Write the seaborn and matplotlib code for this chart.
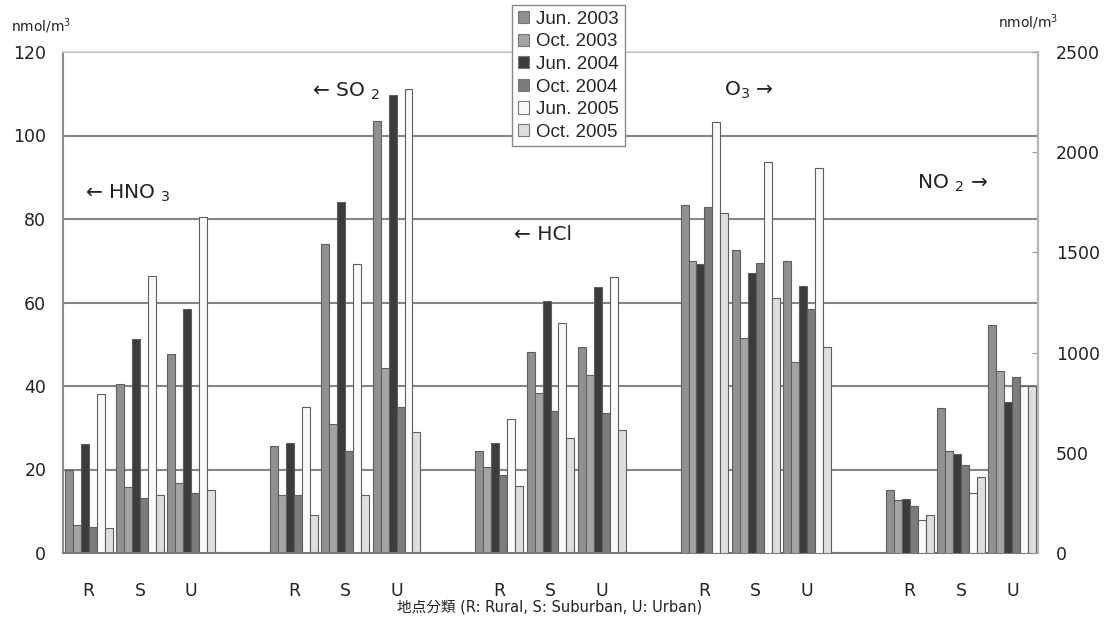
import numpy as np
import pandas as pd
import matplotlib
matplotlib.use("Agg")
import matplotlib.pyplot as plt
import seaborn as sns
from matplotlib.patches import Patch

# sampling periods (hue) and site classes
periods = ["Jun. 2003", "Oct. 2003", "Jun. 2004", "Oct. 2004", "Jun. 2005", "Oct. 2005"]
sites = ["R", "S", "U"]
colors = ["#909090", "#a4a4a4", "#3c3c3c", "#7c7c7c", "#fafafa", "#dedede"]

# rows: R, S, U ; columns: periods  (nmol/m3)
hno3 = [[20.0, 6.6, 26.0, 6.2, 38.2, 6.0],
        [40.5, 15.8, 51.2, 13.1, 66.3, 13.9],
        [47.6, 16.8, 58.4, 14.4, 80.4, 15.0]]
so2 = [[25.6, 14.0, 26.3, 13.8, 34.9, 9.1],
       [73.9, 30.9, 84.1, 24.4, 69.3, 13.9],
       [103.4, 44.3, 109.8, 34.9, 111.2, 29.0]]
hcl = [[24.4, 20.6, 26.3, 18.7, 32.1, 16.0],
       [48.1, 38.3, 60.3, 34.1, 55.0, 27.6],
       [49.4, 42.6, 63.6, 33.5, 66.0, 29.5]]
# right axis
o3 = [[1736, 1456, 1440, 1725, 2149, 1695],
      [1511, 1073, 1395, 1445, 1949, 1273],
      [1458, 951, 1332, 1220, 1919, 1029]]
no2 = [[312, 262, 270, 234, 167, 191],
       [725, 508, 492, 437, 299, 378],
       [1139, 906, 753, 876, 831, 831]]

gases = ["HNO3", "SO2", "HCl", "O3", "NO2"]
gas_data = {"HNO3": hno3, "SO2": so2, "HCl": hcl, "O3": o3, "NO2": no2}
right_gases = ["O3", "NO2"]

# category order with an empty slot between gases
cats = []
tick_labels = []
for i, g in enumerate(gases):
    for s in sites:
        cats.append(g + " " + s)
        tick_labels.append(s)
    if i < len(gases) - 1:
        cats.append("gap" + str(i))
        tick_labels.append("")

rows = []
for g in gases:
    for si, s in enumerate(sites):
        for pi, p in enumerate(periods):
            rows.append({"cat": g + " " + s, "period": p,
                         "value": gas_data[g][si][pi],
                         "side": "right" if g in right_gases else "left"})
df = pd.DataFrame(rows)

sns.set_style("white")
plt.rcParams["font.family"] = ["DejaVu Sans", "Noto Sans CJK JP"]

W, H = 1111, 623
fig = plt.figure(figsize=(W / 100, H / 100), dpi=100)
ax = fig.add_axes([63 / W, 1 - 553 / H, (1038 - 63) / W, (553 - 52) / H])
ax2 = ax.twinx()

edge = "#5e5e5e"
sns.barplot(data=df[df.side == "left"], x="cat", y="value", hue="period",
            order=cats, hue_order=periods, palette=colors, width=0.93, gap=0,
            edgecolor=edge, linewidth=0.8, errorbar=None, legend=False, ax=ax)
sns.barplot(data=df[df.side == "right"], x="cat", y="value", hue="period",
            order=cats, hue_order=periods, palette=colors, width=0.93, gap=0,
            edgecolor=edge, linewidth=0.8, errorbar=None, legend=False, ax=ax2)

ax.set_xlim(-0.5, len(cats) - 0.5)
ax.set_ylim(0, 120)
ax2.set_ylim(0, 2500)
ax.set_yticks(range(0, 121, 20))
ax2.set_yticks(range(0, 2501, 500))
ax.set_xticks(range(len(cats)))
ax.set_xticklabels(tick_labels)
ax.set_xticks(np.arange(len(cats) + 1) - 0.5, minor=True)
for a in (ax, ax2):
    a.set_xlabel("")
    a.set_ylabel("")

ax.yaxis.grid(True, color="#858585", lw=1.5)
ax.set_axisbelow(True)
ax.tick_params(axis="y", length=0, labelsize=12.5, pad=12, colors="#222222")
ax.tick_params(axis="x", which="major", length=0, labelsize=12.5, pad=21, colors="#222222")
ax.tick_params(axis="x", which="minor", direction="in", length=4, color="#999999")
ax2.tick_params(axis="y", direction="in", length=4, color="#999999",
                labelsize=12.5, pad=13, labelcolor="#222222")

for side, c, lw in [("left", "#8c8c8c", 1.5), ("bottom", "#7a7a7a", 1.5),
                    ("top", "#d0d0d0", 1.2), ("right", "#b4b4b4", 1.5)]:
    ax.spines[side].set_color(c)
    ax.spines[side].set_linewidth(lw)
for side in ("left", "bottom", "top"):
    ax2.spines[side].set_visible(False)
ax2.spines["right"].set_color("#b4b4b4")
ax2.spines["right"].set_linewidth(1.5)


def fx(x, y):
    return x / W, 1 - y / H


# gas labels
labels = [("← HNO $_3$", 85, 193), ("← SO $_2$", 312, 91), ("← HCl", 514, 235),
          ("O$_3$ →", 724, 90), ("NO $_2$ →", 917, 183)]
for txt, x, y in labels:
    fig.text(*fx(x, y), txt, fontsize=14.5, va="center", ha="left", color="#222222")

fig.text(*fx(11, 26), "nmol/m$^3$", fontsize=10, va="center", ha="left", color="#222222")
fig.text(*fx(998, 22), "nmol/m$^3$", fontsize=10, va="center", ha="left", color="#222222")

fig.text(*fx(550, 607), "地点分類 (R: Rural, S: Suburban, U: Urban)", fontsize=10.5,
         ha="center", va="center", family=["DejaVu Sans", "Noto Sans CJK JP"],
         color="#222222")

handles = [Patch(facecolor=c, edgecolor="#777777", lw=0.8) for c in colors]
fig.legend(handles, periods, loc="upper left", bbox_to_anchor=fx(512, 5),
           frameon=True, fancybox=False, framealpha=1, edgecolor="#888888",
           prop={"family": "Liberation Sans", "size": 13.5},
           handlelength=0.62, handleheight=0.62, handletextpad=0.37,
           labelspacing=0.3, borderpad=0.3, borderaxespad=0)

fig.savefig("out.png", dpi=100)
